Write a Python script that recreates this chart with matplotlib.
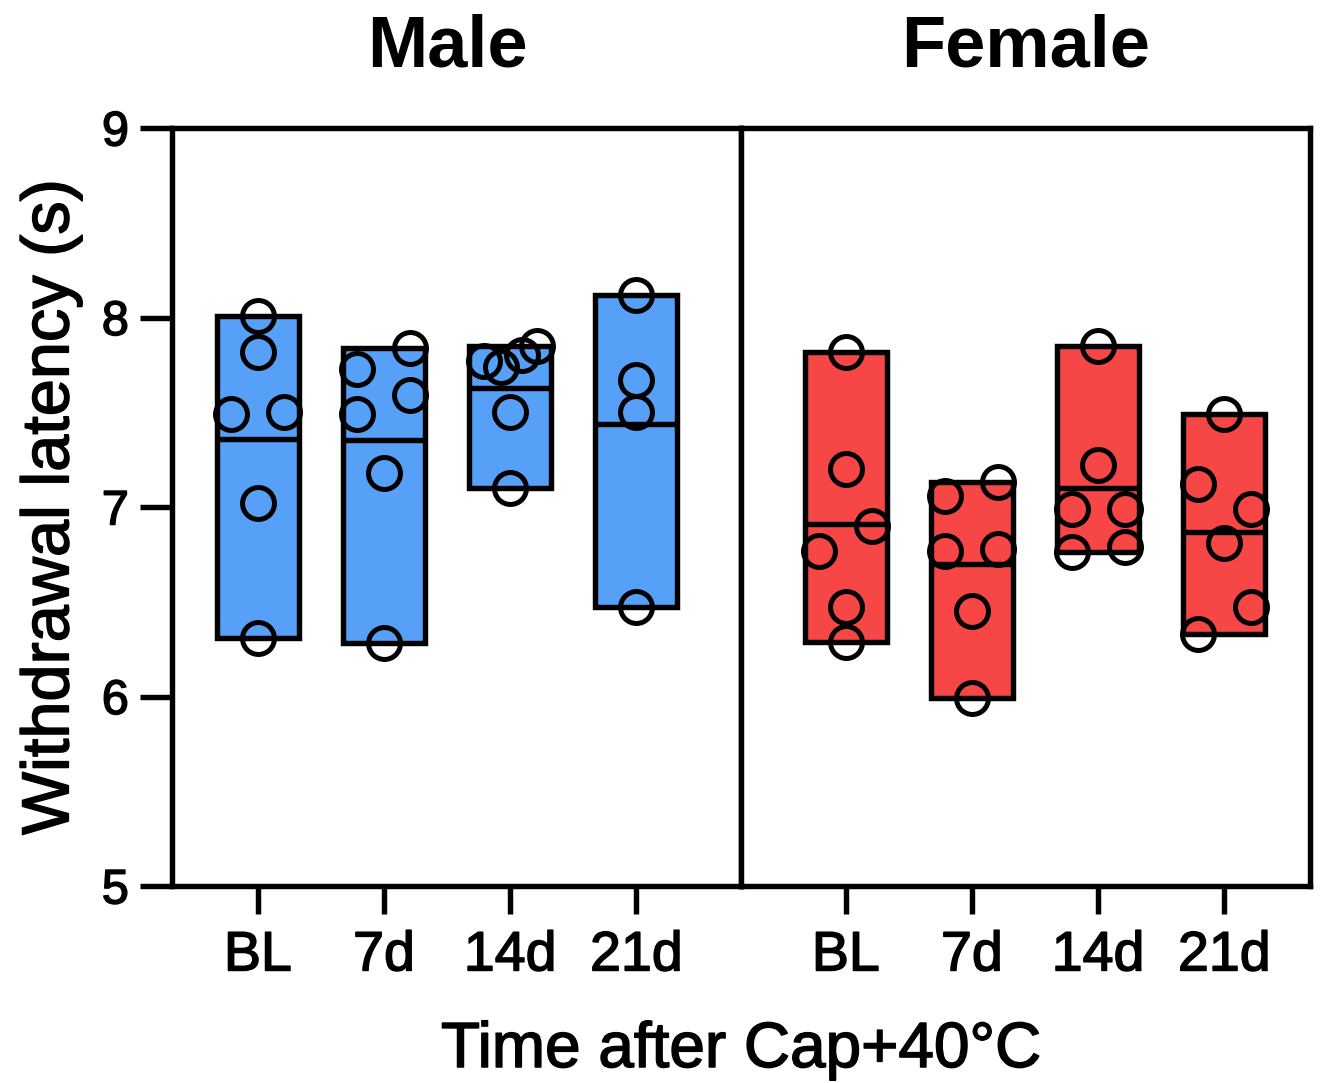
import matplotlib
matplotlib.use("Agg")
import matplotlib.pyplot as plt
import matplotlib.patheffects as pe
import numpy as np

plt.rcParams["font.family"] = ["Liberation Sans", "DejaVu Sans"]

# Time points on the x axis
timepoints = ["BL", "7d", "14d", "21d"]

# Withdrawal latency (s) per animal
male_bl = [8.01, 7.82, 7.49, 7.50, 7.02, 6.31]
male_7d = [7.84, 7.73, 7.49, 7.59, 7.18, 6.28]
male_14d = [7.77, 7.74, 7.80, 7.85, 7.50, 7.10]
male_21d = [8.12, 7.67, 7.50, 6.47]

female_bl = [7.82, 7.20, 6.90, 6.77, 6.47, 6.29]
female_7d = [7.13, 7.06, 6.77, 6.78, 6.45, 5.99]
female_14d = [7.85, 7.22, 6.99, 6.99, 6.76, 6.79]
female_21d = [7.49, 7.12, 6.99, 6.81, 6.47, 6.33]

# horizontal spread of the dots (in units of JITTER)
male_spread = [
    [0, 0, -1, 1, 0, 0],
    [1, -1, -1, 1, 0, 0],
    [-1, -0.35, 0.45, 1, 0, 0],
    [0, 0, 0, 0],
]
female_spread = [
    [0, 0, 1, -1, 0, 0],
    [1, -1, -1, 1, 0, 0],
    [0, 0, -1, 1, -1, 1],
    [0, -1, 1, 0, 1, -1],
]

JITTER = 0.21
BAR_WIDTH = 0.65
BLUE = "#57a0f7"
RED = "#f74646"
LW = 3.9
heavy = [pe.withStroke(linewidth=1.1, foreground="black")]


def draw_group(ax, groups, spread, color):
    """Floating bar from min to max, line at the mean, hollow dots."""
    for i, (vals, offs) in enumerate(zip(groups, spread)):
        vals = np.array(vals)
        lo, hi = vals.min(), vals.max()
        ax.bar(i, hi - lo, bottom=lo, width=BAR_WIDTH, color=color,
               edgecolor="black", linewidth=LW, zorder=2)
        ax.plot([i - BAR_WIDTH / 2, i + BAR_WIDTH / 2], [vals.mean()] * 2,
                color="black", linewidth=LW, zorder=3, solid_capstyle="butt")
        xs = i + np.array(offs) * JITTER
        ax.plot(xs, vals, "o", markersize=23, markerfacecolor="none",
                markeredgecolor="black", markeredgewidth=3.6, zorder=4,
                clip_on=False)


fig = plt.figure(figsize=(13.2, 10.83), dpi=100)
left, right, bottom, top = 172 / 1320, 1310 / 1320, 1 - 886 / 1083, 1 - 128 / 1083
mid = 741 / 1320
ax1 = fig.add_axes([left, bottom, mid - left, top - bottom])
ax2 = fig.add_axes([mid, bottom, right - mid, top - bottom])

draw_group(ax1, [male_bl, male_7d, male_14d, male_21d], male_spread, BLUE)
draw_group(ax2, [female_bl, female_7d, female_14d, female_21d], female_spread, RED)

ax1.set_xlim(-0.68, 3.83)
ax2.set_xlim(-0.83, 3.68)

for ax, title, tx in [(ax1, "Male", 0.484), (ax2, "Female", 0.5)]:
    ax.set_ylim(5, 9)
    ax.set_xticks(range(len(timepoints)))
    ax.set_xticklabels(timepoints, fontsize=40)
    ax.tick_params(axis="x", length=20, width=LW, pad=12)
    for s in ax.spines.values():
        s.set_linewidth(LW)
    ax.set_title(title, fontsize=52, fontweight="bold", pad=44, x=tx)
    for t in ax.get_xticklabels():
        t.set_path_effects(heavy)

ax1.set_yticks([5, 6, 7, 8, 9])
ax1.tick_params(axis="y", labelsize=35, length=23, width=LW, pad=8)
for t in ax1.get_yticklabels():
    t.set_path_effects(heavy)
ax1.set_ylabel("Withdrawal latency (s)", fontsize=48, labelpad=14,
               path_effects=heavy)
ax2.set_yticks([])

fig.text(mid, 1 - 1050 / 1083, "Time after Cap+40°C", fontsize=46,
         ha="center", va="center", path_effects=heavy)

fig.savefig("out.png", dpi=100)
